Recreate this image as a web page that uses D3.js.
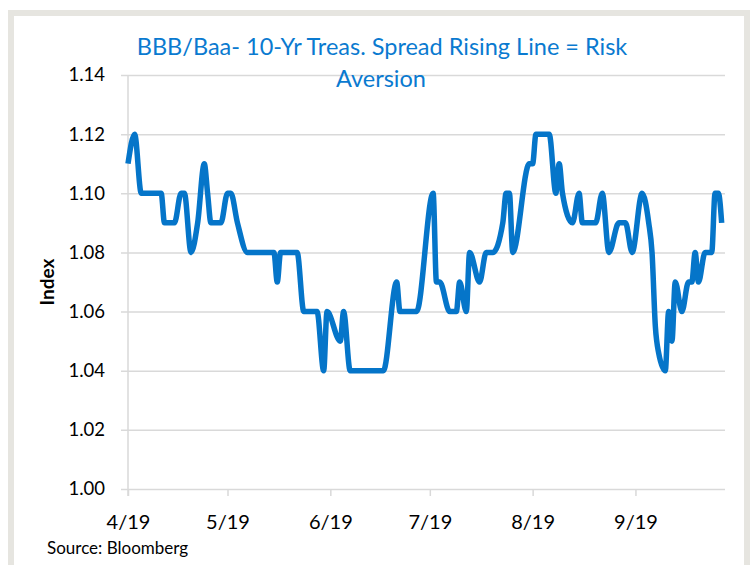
<!DOCTYPE html>
<html>
<head>
<meta charset="utf-8">
<script src="https://cdn.jsdelivr.net/npm/d3@7"></script>
<style>
  body { margin: 0; background: #fff; }
  svg { display: block; font-family: Lato, "Open Sans", sans-serif; }
</style>
</head>
<body>
<svg id="chart" width="754" height="565"></svg>
<script>
// spread index
var dates = ["2019-04-01","2019-04-03","2019-04-05","2019-04-11","2019-04-12","2019-04-15","2019-04-17","2019-04-18",
  "2019-04-20","2019-04-22","2019-04-24","2019-04-25","2019-04-26","2019-04-29","2019-05-01","2019-05-02",
  "2019-05-04","2019-05-07","2019-05-15","2019-05-16","2019-05-17","2019-05-22","2019-05-24","2019-05-28",
  "2019-05-30","2019-05-31","2019-06-04","2019-06-05","2019-06-07","2019-06-17","2019-06-21","2019-06-22",
  "2019-06-27","2019-07-02","2019-07-03","2019-07-04","2019-07-07","2019-07-09","2019-07-10","2019-07-12",
  "2019-07-13","2019-07-16","2019-07-18","2019-07-20","2019-07-23","2019-07-24","2019-07-25","2019-07-26",
  "2019-07-31","2019-08-01","2019-08-02","2019-08-06","2019-08-08","2019-08-09","2019-08-10","2019-08-13",
  "2019-08-15","2019-08-16","2019-08-20","2019-08-22","2019-08-24","2019-08-27","2019-08-29","2019-08-31",
  "2019-09-03","2019-09-05","2019-09-06","2019-09-07","2019-09-08","2019-09-10","2019-09-11","2019-09-12",
  "2019-09-13","2019-09-15","2019-09-17","2019-09-18","2019-09-19","2019-09-20","2019-09-22","2019-09-24",
  "2019-09-25","2019-09-26","2019-09-27"];
var values = [1.11,1.12,1.10,1.10,1.09,1.09,1.10,1.10,
  1.08,1.09,1.11,1.10,1.09,1.09,1.10,1.10,
  1.09,1.08,1.08,1.07,1.08,1.08,1.06,1.06,
  1.04,1.06,1.05,1.06,1.04,1.04,1.07,1.06,
  1.06,1.10,1.07,1.07,1.06,1.06,1.07,1.06,
  1.08,1.07,1.08,1.08,1.09,1.10,1.10,1.08,
  1.11,1.11,1.12,1.12,1.10,1.11,1.10,1.09,
  1.10,1.09,1.09,1.10,1.08,1.09,1.09,1.08,
  1.10,1.09,1.08,1.055,1.046,1.04,1.06,1.05,
  1.07,1.06,1.07,1.07,1.08,1.07,1.08,1.08,
  1.10,1.10,1.09];
var yTicks = [1.00,1.02,1.04,1.06,1.08,1.10,1.12,1.14];
var xTickDates = ["2019-04-01","2019-05-01","2019-06-01","2019-07-01","2019-08-01","2019-09-01"];
var xTickLabels = ["4/19","5/19","6/19","7/19","8/19","9/19"];
var titleLines = ["BBB/Baa- 10-Yr Treas. Spread Rising Line = Risk", "Aversion"];

var parse = d3.timeParse("%Y-%m-%d");
var data = dates.map(function(d, i){ return {date: parse(d), value: values[i]}; });

var svg = d3.select("#chart");
var gridColor = "#d9d9d9";

// panel frame
svg.append("rect")
  .attr("x", 11).attr("y", 13)
  .attr("width", 736).attr("height", 570)
  .attr("fill", "none")
  .attr("stroke", "#e6e5e0")
  .attr("stroke-width", 6);

var x = d3.scaleTime()
  .domain([parse("2019-04-01"), parse("2019-09-28")])
  .range([128, 725]);
var y = d3.scaleLinear()
  .domain([1.00, 1.14])
  .range([489, 75]);

// y axis with gridlines
var yAxis = svg.append("g")
  .attr("transform", "translate(128,0)")
  .call(d3.axisLeft(y).tickValues(yTicks).tickFormat(d3.format(".2f"))
    .tickSize(-(725 - 128)).tickPadding(23));
yAxis.select(".domain").remove();
yAxis.selectAll(".tick line")
  .attr("x1", -7)
  .attr("stroke", gridColor).attr("stroke-width", 1.5);
yAxis.selectAll(".tick text")
  .attr("fill", "#000").style("font-size", "18.5px")
  .attr("font-family", "Lato, sans-serif");

// vertical axis line
svg.append("line")
  .attr("x1", 128).attr("x2", 128)
  .attr("y1", 75).attr("y2", 496)
  .attr("stroke", gridColor).attr("stroke-width", 1.5);

// x axis
var xAxis = svg.append("g")
  .attr("transform", "translate(0,489)")
  .call(d3.axisBottom(x).tickValues(xTickDates.map(parse))
    .tickFormat(function(d, i){ return xTickLabels[i]; })
    .tickSize(7).tickPadding(19));
xAxis.select(".domain").remove();
xAxis.selectAll(".tick line").attr("stroke", gridColor).attr("stroke-width", 1.5);
xAxis.selectAll(".tick text")
  .attr("fill", "#000").style("font-size", "20px")
  .attr("font-family", "Lato, sans-serif");

// the series
svg.append("path")
  .datum(data)
  .attr("fill", "none")
  .attr("stroke", "#0575c9")
  .attr("stroke-width", 5.5)
  .attr("stroke-linejoin", "round")
  .attr("d", d3.line()
    .curve(d3.curveMonotoneX)
    .x(function(d){ return x(d.date); })
    .y(function(d){ return y(d.value); }));

// title
svg.append("text")
  .attr("x", 382).attr("y", 55)
  .attr("text-anchor", "middle")
  .attr("fill", "#0a7ad0")
  .style("font-size", "23.5px")
  .text(titleLines[0]);
svg.append("text")
  .attr("x", 381).attr("y", 87)
  .attr("text-anchor", "middle")
  .attr("fill", "#0a7ad0")
  .style("font-size", "23.5px")
  .text(titleLines[1]);

// y label
svg.append("text")
  .attr("transform", "translate(54,282) rotate(-90)")
  .attr("text-anchor", "middle")
  .attr("fill", "#000")
  .style("font-size", "19px")
  .style("font-weight", "bold")
  .text("Index");

// source note
svg.append("text")
  .attr("x", 47).attr("y", 554)
  .attr("fill", "#000")
  .style("font-size", "17px")
  .text("Source: Bloomberg");
</script>
</body>
</html>
